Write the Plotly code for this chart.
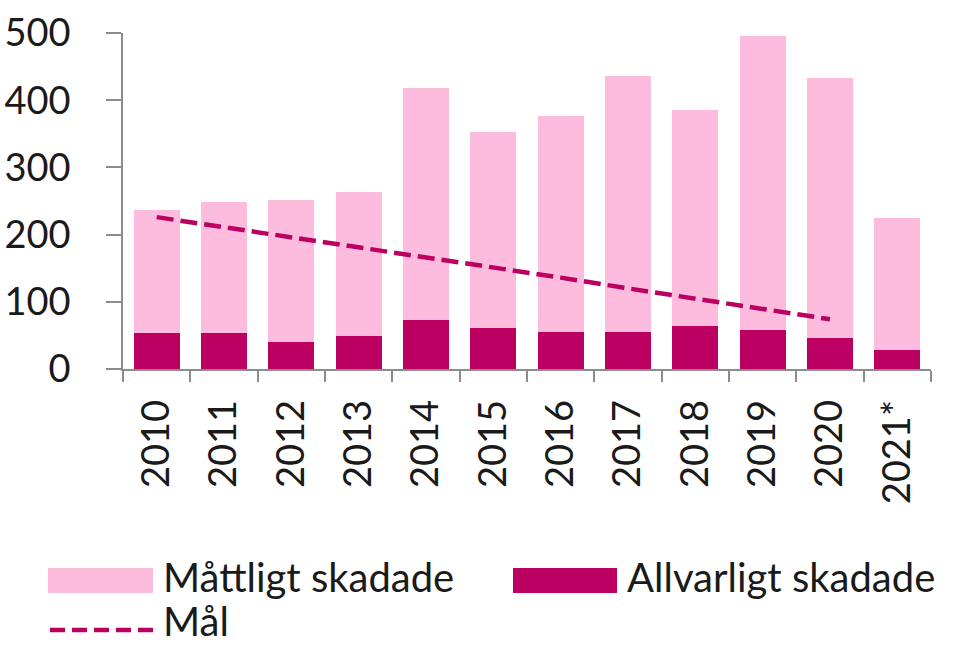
import plotly.graph_objects as go

years = ["2010", "2011", "2012", "2013", "2014", "2015", "2016", "2017", "2018", "2019", "2020", "2021*"]
allvarligt = [53, 53, 40, 49, 73, 61, 55, 55, 64, 58, 46, 28]
mattligt = [184, 196, 211, 214, 345, 292, 322, 381, 322, 438, 387, 197]
mal = [226, 211, 196, 181, 167, 151, 136, 120, 105, 89, 74, None]

LIGHT = "#FDBBDE"
DARK = "#BC0061"
FONT = "Lato"
TXT = "#1a1a1a"

fig = go.Figure()
fig.add_trace(go.Bar(x=years, y=allvarligt, name="Allvarligt skadade",
                     marker=dict(color=DARK, line=dict(width=0))))
fig.add_trace(go.Bar(x=years, y=mattligt, name="Måttligt skadade",
                     marker=dict(color=LIGHT, line=dict(width=0))))
fig.add_trace(go.Scatter(x=years, y=mal, name="Mål", mode="lines",
                         line=dict(color=DARK, width=4.5, dash="17px,7px")))

fig.update_layout(
    width=959, height=645,
    margin=dict(l=123, r=28, t=33, b=276, autoexpand=False),
    barmode="stack", bargap=0.32,
    plot_bgcolor="white", paper_bgcolor="white",
    showlegend=False,
    font=dict(family=FONT, color=TXT, size=38),
)
fig.update_yaxes(range=[0, 500], tickvals=[0, 100, 200, 300, 400, 500],
                 showgrid=False, zeroline=False, showline=True, automargin=False,
                 linecolor="#8c8c8c", linewidth=1.5,
                 ticks="outside", ticklen=15, tickcolor="#8c8c8c", tickwidth=1.5,
                 ticklabelstandoff=28, tickfont=dict(size=38, family=FONT, color=TXT))
fig.update_xaxes(showgrid=False, showline=True, linecolor="#8c8c8c", linewidth=1.5,
                 automargin=False,
                 ticks="outside", ticklen=11, tickcolor="#8c8c8c", tickwidth=1.5,
                 tickson="boundaries", tickangle=-90, ticklabelstandoff=14,
                 tickfont=dict(size=38, family=FONT, color=TXT))

# legend drawn manually
W, H = 808.0, 336.0
def px(x):
    return (x - 123) / W
def py(y):
    return (369 - y) / H

fig.add_shape(type="rect", xref="paper", yref="paper", x0=px(48), x1=px(153), y0=py(593), y1=py(568),
              fillcolor=LIGHT, line=dict(width=0))
fig.add_shape(type="rect", xref="paper", yref="paper", x0=px(513), x1=px(617), y0=py(593), y1=py(568),
              fillcolor=DARK, line=dict(width=0))
fig.add_shape(type="line", xref="paper", yref="paper", x0=px(50), x1=px(153), y0=py(630), y1=py(630),
              line=dict(color=DARK, width=4.5, dash="15px,7px"))
for label, x, y in [("Måttligt skadade", 162, 577), ("Allvarligt skadade", 626, 577), ("Mål", 162, 621)]:
    fig.add_annotation(text=label, xref="paper", yref="paper", x=px(x), y=py(y),
                       xanchor="left", yanchor="middle", showarrow=False, borderpad=0,
                       font=dict(size=40, family=FONT, color=TXT))

fig.write_html("out.html", config={"displayModeBar": False},
               post_script="document.body.style.margin='0';document.body.style.overflow='hidden';")
